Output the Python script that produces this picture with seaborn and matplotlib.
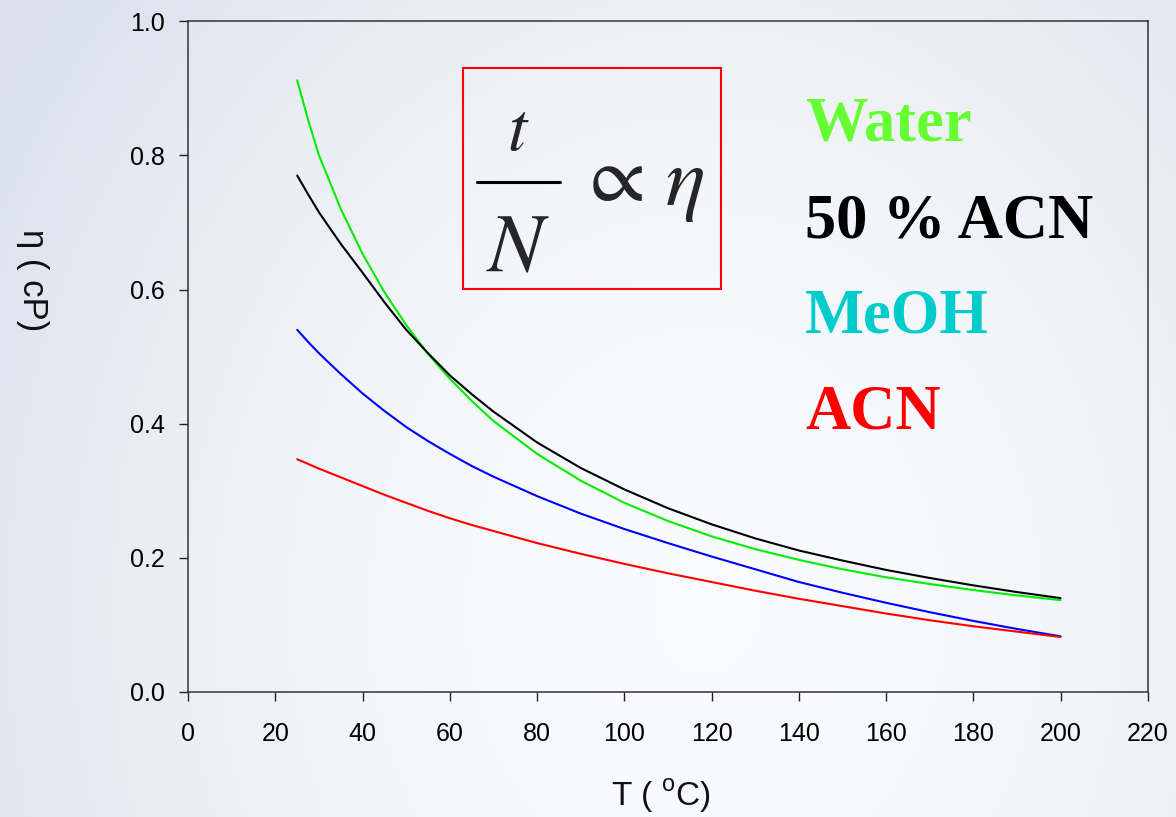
import numpy as np
import pandas as pd
import matplotlib.pyplot as plt
import seaborn as sns
from matplotlib.patches import Rectangle
from matplotlib.lines import Line2D

sns.set_theme(style="white")
plt.rcParams["font.family"] = ["Liberation Sans", "DejaVu Sans"]

# temperatures (deg C) and viscosities (cP)
temp = [25, 27.5, 30, 35, 40, 45, 50, 55, 60, 65, 70, 80, 90, 100, 110, 120, 130, 140,
        150, 160, 170, 180, 190, 200]
water = [0.912, 0.853, 0.800, 0.720, 0.653, 0.596, 0.547, 0.504, 0.467, 0.434, 0.404,
         0.355, 0.315, 0.282, 0.255, 0.232, 0.213, 0.197, 0.183, 0.171, 0.161, 0.152,
         0.144, 0.137]
acn50 = [0.770, 0.742, 0.715, 0.668, 0.625, 0.581, 0.540, 0.505, 0.472, 0.444, 0.418,
         0.372, 0.334, 0.302, 0.274, 0.250, 0.229, 0.211, 0.196, 0.182, 0.170, 0.159,
         0.149, 0.140]
meoh = [0.540, 0.522, 0.505, 0.474, 0.445, 0.419, 0.395, 0.374, 0.355, 0.337, 0.321,
        0.292, 0.266, 0.243, 0.222, 0.202, 0.183, 0.164, 0.148, 0.133, 0.119, 0.106,
        0.094, 0.083]
acn = [0.347, 0.340, 0.333, 0.320, 0.307, 0.294, 0.282, 0.270, 0.259, 0.249, 0.240,
       0.222, 0.206, 0.191, 0.177, 0.164, 0.151, 0.139, 0.128, 0.117, 0.107, 0.098,
       0.090, 0.082]

names = ["Water", "50 % ACN", "MeOH", "ACN"]
line_colors = ["#00EE00", "#000000", "#0000FF", "#FF0000"]
label_colors = ["#66FF33", "#000000", "#00CCCC", "#FF0000"]

df = pd.DataFrame({
    "T": temp * 4,
    "eta": water + acn50 + meoh + acn,
    "solvent": np.repeat(names, len(temp)),
})

fig = plt.figure(figsize=(11.76, 8.17), dpi=100)

# slide-like background gradient
bg = fig.add_axes([0, 0, 1, 1], zorder=-10)
yy, xx = np.mgrid[0:1:200j, 0:1:300j]
d = np.clip(np.sqrt(((xx - 0.6) / 0.7) ** 2 + ((yy - 0.75) / 1.2) ** 2), 0, 1)
c0 = np.array([0.978, 0.985, 0.995])
c1 = np.array([0.855, 0.885, 0.925])
img = c0 + (c1 - c0) * d[..., None] ** 1.8
bg.imshow(img, aspect="auto", extent=[0, 1, 0, 1], origin="upper")
bg.axis("off")

ax = fig.add_axes([0.16, 0.153, 0.816, 0.821])
ax.set_facecolor("none")

sns.lineplot(data=df, x="T", y="eta", hue="solvent", palette=line_colors,
             linewidth=1.5, legend=False, ax=ax)

ax.set_xlim(0, 220)
ax.set_ylim(0, 1.0)
ax.set_xticks(range(0, 221, 20))
ax.set_yticks([0.0, 0.2, 0.4, 0.6, 0.8, 1.0])
ax.set_yticklabels(["0.0", "0.2", "0.4", "0.6", "0.8", "1.0"])
ax.tick_params(axis="both", direction="out", length=6.5, width=1, labelsize=18,
               colors="#222222", labelcolor="black", bottom=True, left=True)
ax.tick_params(axis="x", pad=15)
ax.tick_params(axis="y", pad=10)
for s in ax.spines.values():
    s.set_color("#333333")
    s.set_linewidth(1.1)

ax.set_xlabel(r"T ( $^{\mathregular{o}}$C)", fontsize=24, color="#111111", va="center")
ax.xaxis.set_label_coords(0.492, -0.156)
ax.set_ylabel("η ( cP)", fontsize=25, color="#111111", rotation=270, va="center")
ax.yaxis.set_label_coords(-0.162, 0.614)

# formula box: t / N  ∝  η
ax.add_patch(Rectangle((0.2865, 0.6006), 0.269, 0.329, transform=ax.transAxes,
                       fill=False, edgecolor="#FF0000", linewidth=1.5))
ax.text(0.344, 0.808, "$t$", transform=ax.transAxes, fontsize=50, ha="center",
        va="baseline", math_fontfamily="stix")
ax.add_line(Line2D([0.301, 0.3875], [0.760, 0.760], transform=ax.transAxes,
                   color="black", linewidth=2.2))
ax.text(0.344, 0.629, "$N$", transform=ax.transAxes, fontsize=60, ha="center",
        va="baseline", math_fontfamily="stix")
ax.text(0.4406, 0.763, r"$\propto$", transform=ax.transAxes, fontsize=58, ha="center",
        va="center", math_fontfamily="stix")
ax.text(0.497, 0.726, r"$\eta$", transform=ax.transAxes, fontsize=60, ha="left",
        va="baseline", math_fontfamily="stix")

# coloured solvent labels
ys = [0.8226, 0.678, 0.5365, 0.3934]
for name, col, yv in zip(names, label_colors, ys):
    ax.text(0.643, yv, name, transform=ax.transAxes, color=col, fontsize=45,
            fontweight="bold", family="Liberation Serif", va="baseline", ha="left")

fig.savefig("out.png", dpi=100)
